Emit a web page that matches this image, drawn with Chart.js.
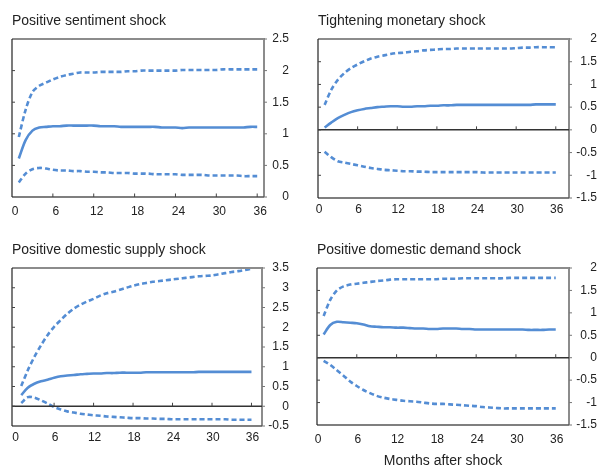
<!DOCTYPE html>
<html><head><meta charset="utf-8">
<script src="https://cdn.jsdelivr.net/npm/chart.js@4.4.1/dist/chart.umd.min.js"></script>
<style>
html,body{margin:0;padding:0;background:#fff;}
body{width:599px;height:466px;position:relative;overflow:hidden;font-family:"Liberation Sans",Arial,sans-serif;}
canvas{position:absolute;}
#xlabel{position:absolute;left:343px;top:452px;width:200px;text-align:center;font-size:14px;line-height:16px;color:#222;}
</style></head><body>
<canvas id="c1" width="300" height="230" style="left:0;top:0"></canvas>
<canvas id="c2" width="299" height="230" style="left:300px;top:0"></canvas>
<canvas id="c3" width="300" height="236" style="left:0;top:230px"></canvas>
<canvas id="c4" width="299" height="236" style="left:300px;top:230px"></canvas>
<div id="xlabel">Months after shock</div>
<script>
// ---- data ----
const months = [1,2,3,4,5,6,7,8,9,10,11,12,13,14,15,16,17,18,19,20,21,22,23,24,25,26,27,28,29,30,31,32,33,34,35,36];
const xTicks = [0,6,12,18,24,30,36];
const titles = ["Positive sentiment shock","Tightening monetary shock","Positive domestic supply shock","Positive domestic demand shock"];
const xAxisTitle = "Months after shock";

const sentimentUpper  = [0.95,1.38,1.66,1.76,1.81,1.86,1.90,1.93,1.95,1.97,1.97,1.97,1.98,1.98,1.98,1.98,1.99,1.99,2.00,2.00,2.00,2.00,2.00,2.00,2.01,2.01,2.01,2.01,2.01,2.01,2.02,2.02,2.02,2.02,2.02,2.02];
const sentimentMedian = [0.61,0.90,1.05,1.10,1.11,1.12,1.12,1.13,1.13,1.13,1.13,1.13,1.12,1.12,1.12,1.11,1.11,1.11,1.11,1.11,1.11,1.10,1.10,1.10,1.09,1.10,1.10,1.10,1.10,1.10,1.10,1.10,1.10,1.10,1.11,1.11];
const sentimentLower  = [0.23,0.37,0.44,0.46,0.45,0.43,0.42,0.42,0.41,0.41,0.40,0.40,0.39,0.39,0.38,0.38,0.38,0.37,0.37,0.37,0.36,0.36,0.36,0.36,0.35,0.35,0.35,0.35,0.34,0.34,0.34,0.34,0.34,0.33,0.33,0.33];
const sentimentYTicks = [0,0.5,1,1.5,2,2.5];

const monetaryUpper  = [0.55,0.88,1.10,1.25,1.36,1.44,1.51,1.57,1.61,1.64,1.67,1.69,1.70,1.72,1.73,1.75,1.76,1.77,1.78,1.78,1.79,1.79,1.79,1.79,1.79,1.79,1.79,1.79,1.79,1.80,1.81,1.81,1.82,1.82,1.82,1.82];
const monetaryMedian = [0.05,0.16,0.26,0.33,0.39,0.43,0.46,0.48,0.50,0.51,0.52,0.52,0.51,0.51,0.52,0.52,0.53,0.53,0.54,0.54,0.55,0.55,0.55,0.55,0.55,0.55,0.55,0.55,0.55,0.55,0.55,0.55,0.56,0.56,0.56,0.56];
const monetaryLower  = [-0.48,-0.60,-0.69,-0.72,-0.75,-0.78,-0.81,-0.84,-0.86,-0.88,-0.89,-0.90,-0.91,-0.91,-0.92,-0.92,-0.93,-0.93,-0.93,-0.93,-0.93,-0.93,-0.93,-0.93,-0.94,-0.94,-0.94,-0.94,-0.94,-0.94,-0.94,-0.94,-0.94,-0.94,-0.94,-0.94];
const monetaryYTicks = [-1.5,-1,-0.5,0,0.5,1,1.5,2];

const supplyUpper  = [0.51,0.91,1.25,1.54,1.80,2.01,2.18,2.34,2.47,2.57,2.65,2.72,2.80,2.86,2.90,2.95,3.00,3.05,3.09,3.12,3.15,3.17,3.19,3.21,3.23,3.25,3.27,3.29,3.30,3.31,3.34,3.37,3.40,3.42,3.45,3.48];
const supplyMedian = [0.28,0.47,0.57,0.63,0.67,0.72,0.76,0.78,0.79,0.81,0.82,0.83,0.83,0.84,0.84,0.85,0.85,0.85,0.85,0.86,0.86,0.86,0.86,0.86,0.86,0.86,0.86,0.87,0.87,0.87,0.87,0.87,0.87,0.87,0.87,0.87];
const supplyLower  = [0.08,0.23,0.22,0.15,0.07,-0.02,-0.08,-0.13,-0.16,-0.19,-0.21,-0.23,-0.24,-0.26,-0.27,-0.28,-0.29,-0.30,-0.30,-0.31,-0.31,-0.32,-0.32,-0.33,-0.33,-0.33,-0.33,-0.33,-0.33,-0.33,-0.33,-0.33,-0.34,-0.34,-0.34,-0.34];
const supplyYTicks = [-0.5,0,0.5,1,1.5,2,2.5,3,3.5];

const demandUpper  = [0.93,1.29,1.50,1.59,1.63,1.65,1.67,1.69,1.71,1.72,1.74,1.75,1.75,1.75,1.75,1.75,1.75,1.75,1.76,1.76,1.76,1.77,1.77,1.77,1.77,1.77,1.77,1.77,1.78,1.78,1.78,1.78,1.78,1.78,1.78,1.78];
const demandMedian = [0.52,0.73,0.80,0.79,0.78,0.77,0.74,0.70,0.69,0.68,0.68,0.67,0.67,0.66,0.65,0.65,0.64,0.64,0.65,0.65,0.65,0.64,0.64,0.63,0.63,0.63,0.63,0.63,0.63,0.63,0.63,0.62,0.62,0.62,0.63,0.63];
const demandLower  = [-0.07,-0.16,-0.28,-0.40,-0.53,-0.63,-0.72,-0.79,-0.85,-0.89,-0.92,-0.94,-0.96,-0.97,-0.98,-1.00,-1.02,-1.03,-1.03,-1.04,-1.05,-1.06,-1.07,-1.08,-1.10,-1.11,-1.12,-1.13,-1.13,-1.13,-1.13,-1.13,-1.13,-1.13,-1.13,-1.13];
const demandYTicks = [-1.5,-1,-0.5,0,0.5,1,1.5,2];

// ---- styling / layout ----
const BLUE = '#548dd4';
const FONT = '"Liberation Sans", Arial, sans-serif';
const TITLE_SIZE = 14;

const framePlugin = {
  id: 'frame',
  afterDatasetsDraw(chart) {
    const {ctx, chartArea: a, scales: {x, y}} = chart;
    ctx.save();
    ctx.strokeStyle = '#8c8c8c'; ctx.lineWidth = 2;
    ctx.beginPath(); ctx.moveTo(a.left, a.top); ctx.lineTo(a.right, a.top); ctx.lineTo(a.right, a.bottom); ctx.stroke();
    ctx.strokeStyle = '#555'; ctx.lineWidth = 1.5;
    ctx.beginPath(); ctx.moveTo(a.left, a.bottom); ctx.lineTo(a.right, a.bottom); ctx.stroke();
    ctx.strokeStyle = '#222'; ctx.lineWidth = 1.2;
    ctx.beginPath(); ctx.moveTo(a.left, a.top); ctx.lineTo(a.left, a.bottom); ctx.stroke();
    let axisY = a.bottom;
    if (y.min < 0) {
      axisY = y.getPixelForValue(0);
      ctx.strokeStyle = '#333'; ctx.lineWidth = 1.5;
      ctx.beginPath(); ctx.moveTo(a.left, axisY); ctx.lineTo(a.right, axisY); ctx.stroke();
    }
    ctx.lineWidth = 1;
    y.ticks.forEach(t => {
      const py = y.getPixelForValue(t.value);
      ctx.strokeStyle = '#444';
      if (py > a.top + 1 && py < a.bottom - 1) {
        ctx.beginPath(); ctx.moveTo(a.left, py); ctx.lineTo(a.left + 3, py); ctx.stroke();
      }
      ctx.strokeStyle = '#777';
      ctx.beginPath(); ctx.moveTo(a.right, py); ctx.lineTo(a.right + 3, py); ctx.stroke();
    });
    ctx.strokeStyle = '#444';
    x.ticks.forEach(t => {
      if (t.value === 0) return;
      const px = x.getPixelForValue(t.value);
      ctx.beginPath(); ctx.moveTo(px, axisY); ctx.lineTo(px, axisY - 3.5); ctx.stroke();
    });
    ctx.restore();
  }
};

function makeChart(id, cfg) {
  const canvas = document.getElementById(id);
  const W = canvas.width, H = canvas.height;
  const lh = TITLE_SIZE * 1.2;
  const ds = (vals, dashed) => ({
    data: months.map((m, i) => ({x: m, y: vals[i]})),
    borderColor: BLUE, borderWidth: 2.6, borderDash: dashed ? [5, 3] : [],
    pointRadius: 0, tension: 0.3, fill: false
  });
  return new Chart(canvas, {
    type: 'line',
    data: {datasets: [ds(cfg.upper, true), ds(cfg.median, false), ds(cfg.lower, true)]},
    options: {
      responsive: false, animation: false, events: [],
      layout: {padding: {left: cfg.area.left, right: W - cfg.labelRight, top: 0, bottom: 0}},
      plugins: {
        legend: {display: false}, tooltip: {enabled: false},
        title: {
          display: true, text: cfg.title, align: 'start', color: '#222',
          font: {family: FONT, size: TITLE_SIZE, weight: 'normal', lineHeight: 1.2},
          padding: {top: cfg.titleMid - lh / 2, bottom: cfg.area.top - (cfg.titleMid - lh / 2) - lh}
        }
      },
      scales: {
        x: {
          type: 'linear', position: 'bottom', min: cfg.xmin, max: cfg.xmax,
          grid: {display: false, drawTicks: false}, border: {display: false},
          ticks: {color: '#222', font: {family: FONT, size: 12}, padding: cfg.xPad, maxRotation: 0, autoSkip: false,
                  labelOffset: cfg.xLabelOffset, callback: v => String(v)},
          afterBuildTicks: s => { s.ticks = xTicks.map(v => ({value: v})); },
          afterFit: s => { s.height = H - cfg.area.bottom; }
        },
        y: {
          type: 'linear', position: 'right', min: cfg.yTicks[0], max: cfg.yTicks[cfg.yTicks.length - 1],
          grid: {display: false, drawTicks: false}, border: {display: false},
          ticks: {color: '#222', font: {family: FONT, size: 12}, padding: 6, crossAlign: 'far',
                  callback: v => String(v)},
          afterBuildTicks: s => { s.ticks = cfg.yTicks.map(v => ({value: v})); },
          afterFit: s => { s.width = cfg.labelRight - cfg.area.right; }
        }
      }
    },
    plugins: [framePlugin]
  });
}

makeChart('c1', {title: titles[0], upper: sentimentUpper, median: sentimentMedian, lower: sentimentLower, yTicks: sentimentYTicks,
  area: {left: 12, right: 264, top: 39, bottom: 197}, labelRight: 289, titleMid: 21.3, xmin: 0, xmax: 37, xPad: 7, xLabelOffset: 3});
makeChart('c2', {title: titles[1], upper: monetaryUpper, median: monetaryMedian, lower: monetaryLower, yTicks: monetaryYTicks,
  area: {left: 18, right: 269, top: 39, bottom: 198}, labelRight: 297, titleMid: 21.3, xmin: 0, xmax: 38, xPad: 4, xLabelOffset: 1});
makeChart('c3', {title: titles[2], upper: supplyUpper, median: supplyMedian, lower: supplyLower, yTicks: supplyYTicks,
  area: {left: 12, right: 262, top: 38, bottom: 196}, labelRight: 289, titleMid: 20.5, xmin: -0.4, xmax: 37.6, xPad: 4, xLabelOffset: 1});
makeChart('c4', {title: titles[3], upper: demandUpper, median: demandMedian, lower: demandLower, yTicks: demandYTicks,
  area: {left: 17, right: 269, top: 38, bottom: 195}, labelRight: 297, titleMid: 20.5, xmin: 0, xmax: 38, xPad: 7, xLabelOffset: 1});
document.getElementById('xlabel').textContent = xAxisTitle;
</script>
</body></html>
